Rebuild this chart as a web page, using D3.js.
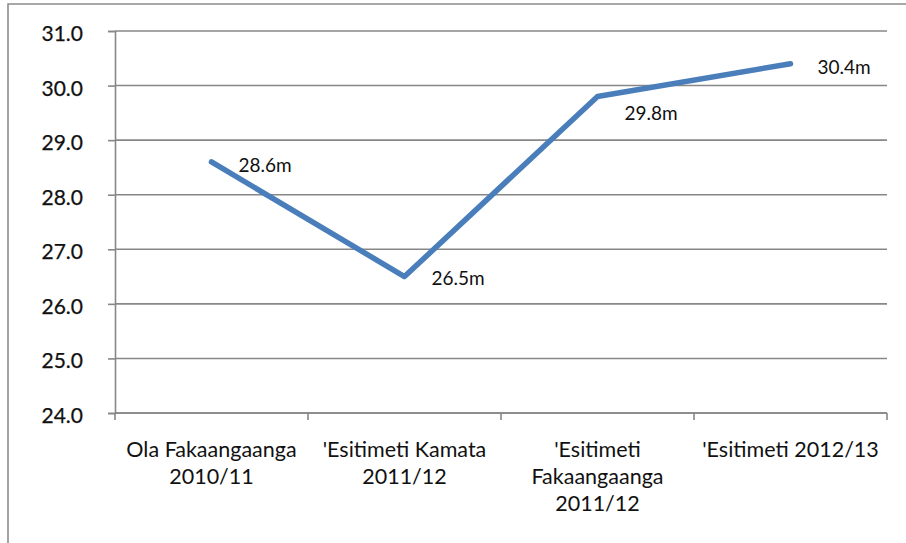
<!DOCTYPE html>
<html>
<head>
<meta charset="utf-8">
<script src="https://cdn.jsdelivr.net/npm/d3@7"></script>
<style>
  html, body { margin: 0; padding: 0; background: #fff; }
  svg { display: block; font-family: Lato, "Open Sans", sans-serif; }
</style>
</head>
<body>
<svg id="chart" width="906" height="543"></svg>
<script>
// Revenue by period, in millions
const categories = [
  ["Ola Fakaangaanga", "2010/11"],
  ["'Esitimeti Kamata", "2011/12"],
  ["'Esitimeti", "Fakaangaanga", "2011/12"],
  ["'Esitimeti 2012/13"]
];
const values = [28.6, 26.5, 29.8, 30.4];
const valueLabels = ["28.6m", "26.5m", "29.8m", "30.4m"];
const yTicks = [24, 25, 26, 27, 28, 29, 30, 31];

// vertical nudges for the value labels so they clear the line
const labelNudge = [3, 2, 17, 3];

const svg = d3.select("#chart");
const plot = { left: 115, right: 887, top: 31, bottom: 413 };
const gridColor = "#878787";
const lineColor = "#4a7ebb";

// outer chart frame (top and left edges)
svg.append("path")
  .attr("d", "M8,543 L8,4 L906,4")
  .attr("fill", "none")
  .attr("stroke", "#8c8c8c")
  .attr("stroke-width", 1.6);

const x = d3.scaleBand()
  .domain(d3.range(categories.length))
  .range([plot.left, plot.right])
  .padding(0);

const y = d3.scaleLinear()
  .domain([24, 31])
  .range([plot.bottom, plot.top]);

// horizontal gridlines
svg.append("g")
  .selectAll("line")
  .data(yTicks)
  .join("line")
  .attr("x1", plot.left)
  .attr("x2", plot.right)
  .attr("y1", d => y(d))
  .attr("y2", d => y(d))
  .attr("stroke", gridColor)
  .attr("stroke-width", 1.6);

// y axis
const yAxis = svg.append("g")
  .attr("transform", `translate(${plot.left},0)`)
  .call(d3.axisLeft(y).tickValues(yTicks).tickFormat(d3.format(".1f")).tickSize(7).tickPadding(25));
yAxis.select(".domain").attr("stroke", gridColor).attr("stroke-width", 1.6);
yAxis.selectAll(".tick line").attr("stroke", gridColor).attr("stroke-width", 1.6);
yAxis.selectAll(".tick text")
  .attr("font-family", "Lato, 'Open Sans', sans-serif")
  .attr("font-size", 21)
  .attr("fill", "#111")
  .attr("stroke", "#111")
  .attr("stroke-width", 0.25)
  .attr("dy", "0.38em")
  .attr("y", 1.5);

// x axis: ticks on the category boundaries
const xAxis = svg.append("g");
xAxis.append("line")
  .attr("x1", plot.left).attr("x2", plot.right)
  .attr("y1", plot.bottom).attr("y2", plot.bottom)
  .attr("stroke", gridColor).attr("stroke-width", 1.6);
const boundaries = d3.range(categories.length + 1).map(i =>
  i < categories.length ? x(i) : x(i - 1) + x.bandwidth());
xAxis.selectAll("line.tick")
  .data(boundaries)
  .join("line")
  .attr("class", "tick")
  .attr("x1", d => d).attr("x2", d => d)
  .attr("y1", plot.bottom).attr("y2", plot.bottom + 7)
  .attr("stroke", gridColor).attr("stroke-width", 1.6);

// category labels
const catText = xAxis.selectAll("text.cat")
  .data(categories)
  .join("text")
  .attr("class", "cat")
  .attr("text-anchor", "middle")
  .attr("font-size", 21.5)
  .attr("fill", "#111")
  .attr("transform", (d, i) => `translate(${x(i) + x.bandwidth() / 2},${plot.bottom + 44})`);
catText.selectAll("tspan")
  .data(d => d)
  .join("tspan")
  .attr("x", 0)
  .attr("y", (d, j) => j * 27)
  .text(d => d);

// the line
svg.append("path")
  .datum(values)
  .attr("d", d3.line()
    .x((d, i) => x(i) + x.bandwidth() / 2)
    .y(d => y(d)))
  .attr("fill", "none")
  .attr("stroke", lineColor)
  .attr("stroke-width", 5.5)
  .attr("stroke-linejoin", "round")
  .attr("stroke-linecap", "round");

// value labels
svg.append("g")
  .selectAll("text")
  .data(values)
  .join("text")
  .attr("x", (d, i) => x(i) + x.bandwidth() / 2 + 27)
  .attr("y", (d, i) => y(d) + labelNudge[i])
  .attr("dy", "0.36em")
  .attr("font-size", 19)
  .attr("fill", "#111")
  .text((d, i) => valueLabels[i]);
</script>
</body>
</html>
